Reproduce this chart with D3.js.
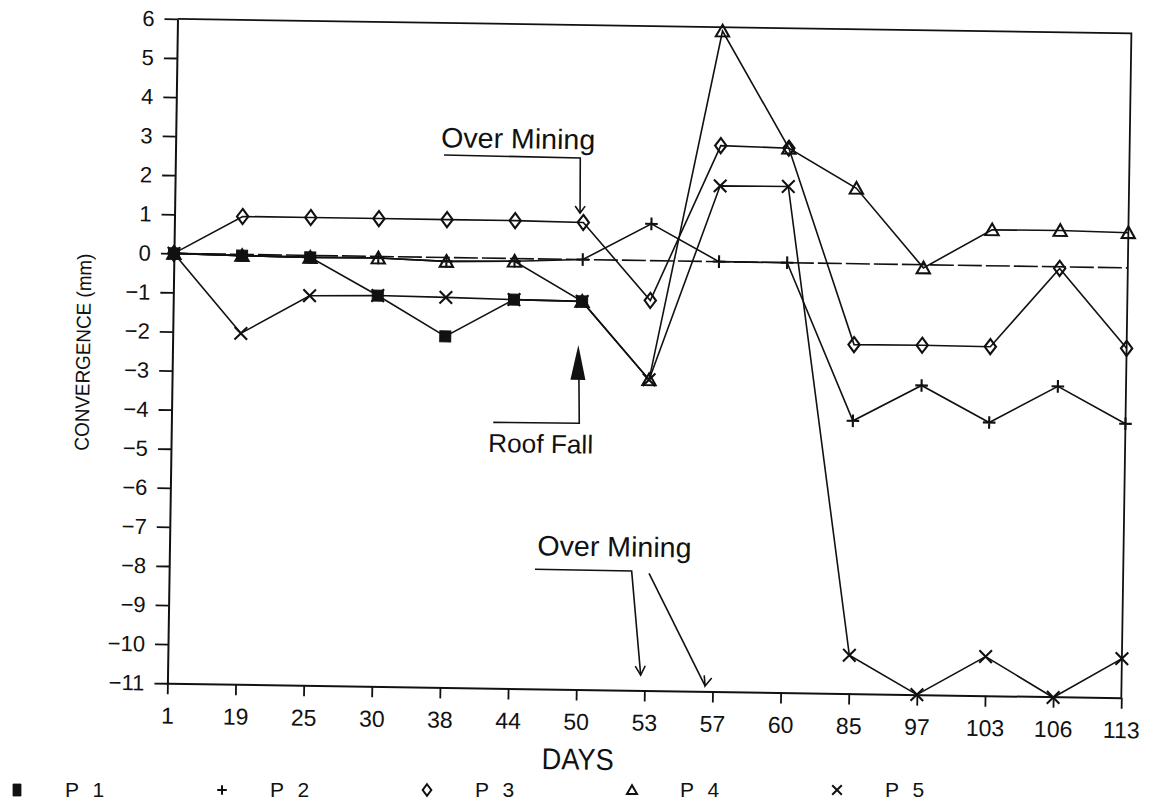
<!DOCTYPE html>
<html><head><meta charset="utf-8">
<script src="https://cdn.jsdelivr.net/npm/d3@7/dist/d3.min.js"></script>
<style>
body{margin:0;background:#fff;}
svg{display:block;}
text{font-family:"Liberation Sans",Arial,sans-serif;fill:#111;}
</style>
</head><body>
<svg id="chart" width="1150" height="810"></svg>
<script>
// ---- data ----
const days = [1,19,25,30,38,44,50,53,57,60,85,97,103,106,113];
const yTicks = [-11,-10,-9,-8,-7,-6,-5,-4,-3,-2,-1,0,1,2,3,4,5,6];
const P1 = [0,-0.03,-0.05,-1.0,-2.02,-1.05,-1.07];
const P2 = [0,-0.03,-0.05,-0.04,-0.1,-0.07,0.0,0.94,0.0,0.0,-4.02,-3.09,-4.01,-3.06,-3.99];
const P3 = [0,0.97,0.97,0.97,0.97,0.97,0.95,-1.02,2.97,2.93,-2.07,-2.06,-2.07,-0.04,-2.06];
const P4 = [0,-0.03,-0.05,-0.04,-0.1,-0.07,-1.07,-3.05,5.9,2.93,1.93,-0.08,0.92,0.93,0.9];
const P5 = [0,-2.02,-1.03,-1.0,-1.02,-1.05,-1.07,-3.05,1.94,1.95,-10.02,-11.0,-10.0,-11.02,-10.0];
const zeroRef = [0,0];
const seriesNames = ["P 1","P 2","P 3","P 4","P 5"];
const seriesSymbols = ["square","plus","diamond","triangle","cross"];
const seriesValues = [P1,P2,P3,P4,P5];

// ---- layout ----
const L = 172.4, T = 26.1, W = 954, H = 664.4;
const svg = d3.select("#chart");
const g = svg.append("g")
  .attr("transform", `rotate(0.87,648.9,358.3) translate(${L},${T})`);

const x = d3.scalePoint().domain(days).range([0, W]).padding(0);
const y = d3.scaleLinear().domain([-11, 6]).range([H, 0]);
const INK = "#111";

function symPath(type, s) {
  switch (type) {
    case "square": return `M${-s},${-s}H${s}V${s}H${-s}Z`;
    case "plus": return `M${-s},0H${s}M0,${-s}V${s}`;
    case "cross": return `M${-s},${-s}L${s},${s}M${-s},${s}L${s},${-s}`;
    case "diamond": return `M0,${-s*1.2}L${s*0.9},0L0,${s*1.2}L${-s*0.9},0Z`;
    case "triangle": return `M0,${-s}L${s*1.05},${s*0.85}L${-s*1.05},${s*0.85}Z`;
  }
}

// ---- axes ----
const fmt = d => d < 0 ? "\u2212" + Math.abs(d) : String(d);
const yAxis = g.append("g").call(d3.axisLeft(y).tickValues(yTicks).tickSize(13).tickSizeOuter(0).tickPadding(10).tickFormat(fmt));
const xAxis = g.append("g").attr("transform", `translate(0,${H})`)
  .call(d3.axisBottom(x).tickSize(11).tickSizeOuter(0).tickPadding(13));
[yAxis, xAxis].forEach(a => {
  a.selectAll("path.domain").attr("stroke", INK).attr("stroke-width", 2);
  a.selectAll(".tick line").attr("stroke", INK).attr("stroke-width", 1.8);
  a.selectAll(".tick text").attr("fill", INK)
    .style("font-family", '"Liberation Sans",Arial,sans-serif');
});
yAxis.selectAll(".tick text").attr("font-size", 22);
xAxis.selectAll(".tick text").attr("font-size", 23);
// frame top & right
g.append("path").attr("d", `M0,0H${W}V${H}`).attr("fill", "none")
  .attr("stroke", INK).attr("stroke-width", 1.8);

// zero reference line
g.append("line")
  .attr("x1", x(days[0])).attr("x2", x(days[days.length-1]))
  .attr("y1", y(zeroRef[0])).attr("y2", y(zeroRef[1]))
  .attr("stroke", INK).attr("stroke-width", 1.6).attr("stroke-dasharray", "24,4");

// ---- series ----
const line = d3.line().x((d, i) => x(days[i])).y(d => y(d));
seriesValues.forEach((vals, k) => {
  g.append("path").datum(vals).attr("d", line).attr("fill", "none")
    .attr("stroke", INK).attr("stroke-width", 1.6);
});
seriesValues.forEach((vals, k) => {
  const type = seriesSymbols[k];
  g.append("g").selectAll("path").data(vals).join("path")
    .attr("transform", (d, i) => `translate(${x(days[i])},${y(d)})`)
    .attr("d", symPath(type, type === "square" ? 5.5 : 6.3))
    .attr("fill", type === "square" ? INK : "none")
    .attr("stroke", INK).attr("stroke-width", type === "square" ? 1 : 2.1);
});

// ---- axis titles ----
g.append("text").attr("transform", `translate(-89.4,${y(-2.56)}) rotate(-90)`)
  .attr("text-anchor", "middle").attr("dy", "0.35em")
  .attr("font-size", 20).attr("textLength", 197).attr("lengthAdjust", "spacingAndGlyphs")
  .text("CONVERGENCE (mm)");
g.append("text").attr("x", x(50) + 2.6).attr("y", H + 80)
  .attr("text-anchor", "middle").attr("font-size", 30)
  .attr("textLength", 72).attr("lengthAdjust", "spacingAndGlyphs").text("DAYS");

// ---- annotations ----
const ann = g.append("g").attr("fill", "none").attr("stroke", INK).attr("stroke-width", 1.6);
const x50 = x(50), x53 = x(53), x57 = x(57);
// top "Over Mining"
g.append("text").attr("x", x50 - 143.4).attr("y", y(2.82)).attr("font-size", 28)
  .attr("textLength", 154).attr("lengthAdjust", "spacingAndGlyphs").text("Over Mining");
ann.append("path").attr("d", `M${x50-140.3},${y(2.62)}L${x50-4},${y(2.6)}L${x50-3.4},${y(1.19)}`);
ann.append("path").attr("d", `M${x50-8.4},${y(1.19)-7}L${x50-3.4},${y(1.19)}L${x50+1.6},${y(1.19)-7}`);
// Roof Fall
g.append("path").attr("fill", INK)
  .attr("d", `M${x50-3.1},${y(-2.19)}L${x50+4.5},${y(-3.08)}L${x50-10.5},${y(-3.08)}Z`);
ann.append("path").attr("d", `M${x50-2},${y(-3.05)}L${x50-1},${y(-4.19)}L${x50-87},${y(-4.2)}`);
g.append("text").attr("x", x50 - 91.8).attr("y", y(-4.96)).attr("font-size", 26)
  .attr("textLength", 105).attr("lengthAdjust", "spacingAndGlyphs").text("Roof Fall");
// lower "Over Mining"
g.append("text").attr("x", x53 - 109.1).attr("y", y(-7.58)).attr("font-size", 28)
  .attr("textLength", 154).attr("lengthAdjust", "spacingAndGlyphs").text("Over Mining");
ann.append("path").attr("d", `M${x53-111.2},${y(-7.94)}L${x53-14.5},${y(-7.95)}L${x53-3.9},${y(-10.61)}`);
ann.append("path").attr("d", `M${x53-9.5},${y(-10.61)-9}L${x53-3.9},${y(-10.61)}L${x53+0.5},${y(-10.61)-9.5}`);
ann.append("path").attr("d", `M${x53+2.9},${y(-8.0)}L${x57-7.5},${y(-10.86)}`);
ann.append("path").attr("d", `M${x57-8.5},${y(-10.86)-10.5}L${x57-7.5},${y(-10.86)}L${x57-1},${y(-10.86)-8}`);

// ---- legend ----
const leg = svg.append("g");
seriesNames.forEach((name, i) => {
  const lx = 17 + i * 205;
  const type = seriesSymbols[i];
  leg.append("path").attr("transform", `translate(${lx},${790})`)
    .attr("d", type === "square" ? "M-4,-6H4V6H-4Z" : symPath(type, 4.8))
    .attr("fill", type === "square" ? INK : "none").attr("stroke", INK)
    .attr("stroke-width", type === "square" ? 0.8 : 2);
  leg.append("text").attr("x", lx + 48).attr("y", 797).attr("font-size", 21)
    .attr("letter-spacing", 4).text(name);
});
</script>
</body></html>
